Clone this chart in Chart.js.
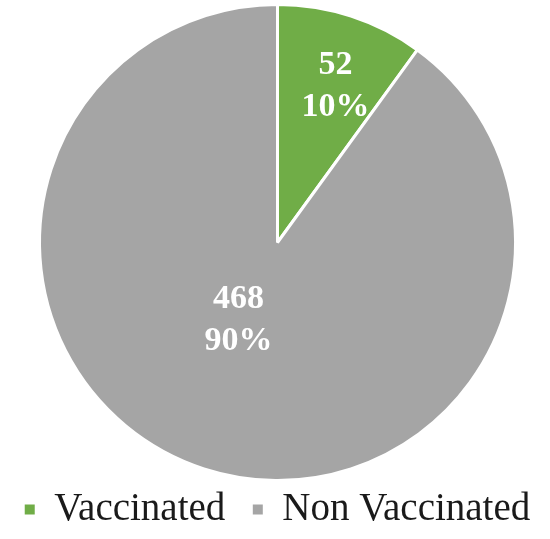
<!DOCTYPE html>
<html>
<head>
<meta charset="utf-8">
<script src="https://cdn.jsdelivr.net/npm/chart.js@4/dist/chart.umd.min.js"></script>
<style>
  html, body { margin: 0; padding: 0; background: #fff; }
  #wrap { width: 550px; height: 539px; }
</style>
</head>
<body>
<div id="wrap"><canvas id="pieChart"></canvas></div>
<script>
const categories = ['Vaccinated', 'Non Vaccinated'];
const counts = [52, 468];
const percents = ['10%', '90%'];
const sliceColors = ['#70AD47', '#A5A5A5'];

// where each value label sits, as fraction of radius from the centre
const labelRadius = [0.70, 0.367];
const labelAngleShift = [0.042, 0.15];

const sliceLabels = {
    id: 'sliceLabels',
    afterDatasetsDraw(chart) {
        const ctx = chart.ctx;
        const meta = chart.getDatasetMeta(0);
        ctx.save();
        ctx.fillStyle = '#ffffff';
        ctx.font = 'bold 34px "Liberation Serif", "Times New Roman", serif';
        ctx.textAlign = 'center';
        ctx.textBaseline = 'middle';
        meta.data.forEach((arc, i) => {
            const mid = (arc.startAngle + arc.endAngle) / 2 + labelAngleShift[i];
            const r = arc.outerRadius * labelRadius[i];
            const x = arc.x + Math.cos(mid) * r;
            const y = arc.y + Math.sin(mid) * r;
            ctx.fillText(String(counts[i]), x, y - 21);
            ctx.fillText(percents[i], x, y + 21);
        });
        ctx.restore();
    }
};

const defaultLabels = Chart.controllers.pie.overrides.plugins.legend.labels.generateLabels;

new Chart(document.getElementById('pieChart'), {
    type: 'pie',
    data: {
        labels: categories,
        datasets: [{
            data: counts,
            backgroundColor: sliceColors,
            borderColor: '#ffffff',
            borderWidth: 3
        }]
    },
    options: {
        responsive: true,
        maintainAspectRatio: false,
        animation: false,
        layout: { padding: { top: 3, bottom: 0, left: 5 } },
        plugins: {
            tooltip: { enabled: false },
            legend: {
                position: 'bottom',
                labels: {
                    color: '#1a1a1a',
                    boxWidth: 10,
                    boxHeight: 10,
                    padding: 8,
                    font: { family: '"Liberation Serif", "Times New Roman", serif', size: 39 },
                    generateLabels(chart) {
                        const items = defaultLabels(chart);
                        items.forEach((it, i) => {
                            it.lineWidth = 0;
                            if (i < items.length - 1) it.text = it.text + '  ';
                        });
                        return items;
                    }
                }
            }
        }
    },
    plugins: [sliceLabels]
});
</script>
</body>
</html>
